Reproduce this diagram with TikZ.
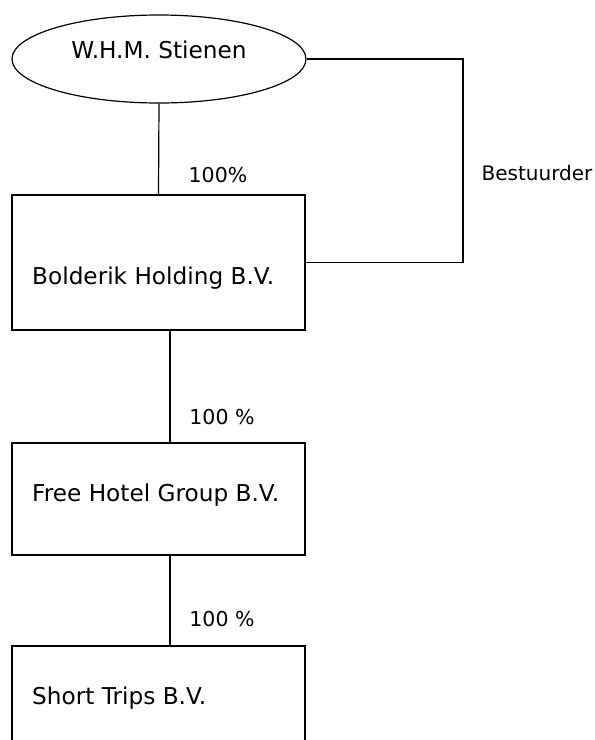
\documentclass[tikz,border=0pt]{standalone}
\usepackage{fontspec}
\setmainfont{DejaVu Sans}
\usepackage{tikz}
\usetikzlibrary{shapes.geometric}
\tikzset{
  orgbox/.style={draw, rectangle, line width=1.2pt, minimum width=293pt, inner sep=0pt},
  orgtext/.style={font=\fontsize{23.2}{28}\selectfont, inner sep=0pt},
  pcttext/.style={font=\fontsize{20.5}{24}\selectfont, inner sep=0pt},
  orgline/.style={line width=1.2pt}
}

\begin{document}
\begin{tikzpicture}[x=1pt,y=1pt,yscale=-1,xscale=1]
\useasboundingbox (0,0) rectangle (595,740);
\clip (0,0) rectangle (595,740);

%Shape: Ellipse [id:stienen]
\node [draw, ellipse, line width=1.2pt, minimum width=294pt, minimum height=88pt, inner sep=0pt] (stienen) at (159,59) {};
\node [orgtext] (stienentext) at (159,50) {W.H.M. Stienen};

%Shape: Rectangle [id:holding]
\node [orgbox, minimum height=135pt] (holding) at (158.5,262.5) {};
\node [orgtext, anchor=west] (holdingtext) at (32,278) {Bolderik Holding B.V.};

%Shape: Rectangle [id:freehotel]
\node [orgbox, minimum height=112pt] (freehotel) at (158.5,499) {};
\node [orgtext, anchor=west] (freehoteltext) at (32,495) {Free Hotel Group B.V.};

%Shape: Rectangle [id:shorttrips]
\node [orgbox, minimum height=120pt] (shorttrips) at (158.5,706) {};
\node [orgtext, anchor=west] (shorttripstext) at (32,698) {Short Trips B.V.};

%Straight Lines
\draw [orgline] (stienen.south) -- (holding.north);
\draw [orgline] ([xshift=11.5pt]holding.south) -- ([xshift=11.5pt]freehotel.north);
\draw [orgline] ([xshift=11.5pt]freehotel.south) -- ([xshift=11.5pt]shorttrips.north);

%Shape: Bestuurder line
\coordinate (corner) at (463,59);
\draw [orgline] (stienen.east) -- (corner) |- (holding.east);

%Labels
\node [pcttext] (pct1) at (218,175) {100\%};
\node [pcttext] (pct2) at (222,417) {100 \%};
\node [pcttext] (pct3) at (222,619) {100 \%};
\node [pcttext, font=\fontsize{20}{24}\selectfont] (bestuurder) at (537,173) {Bestuurder};

\end{tikzpicture}
\end{document}
